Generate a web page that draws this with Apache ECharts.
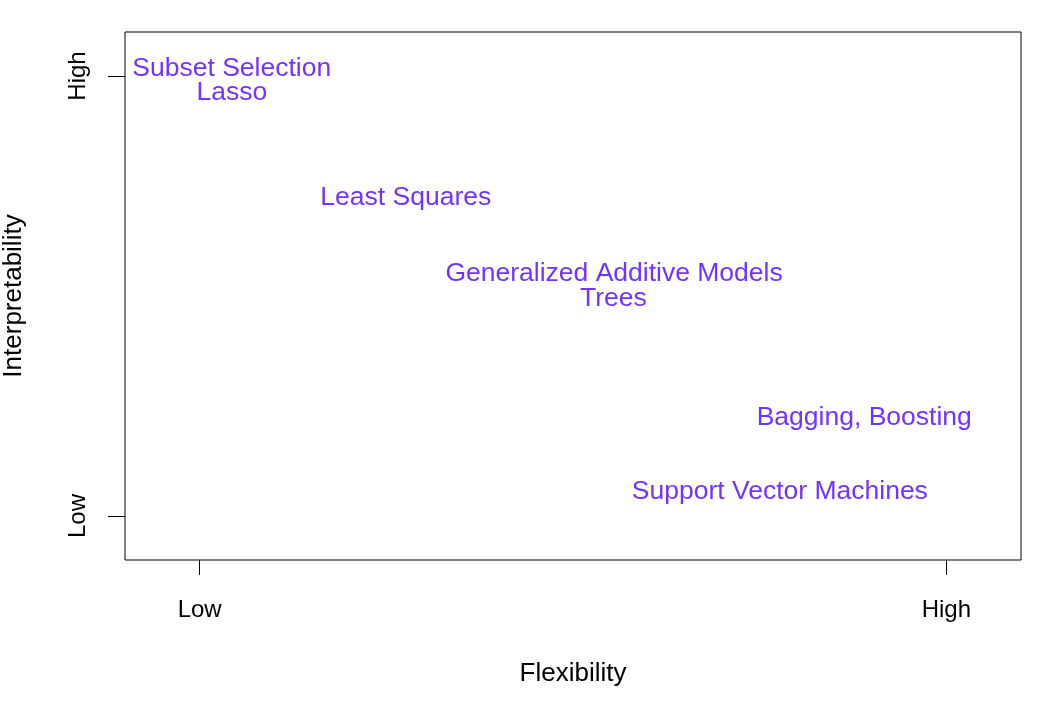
<!DOCTYPE html>
<html>
<head>
<meta charset="utf-8">
<script src="https://cdn.jsdelivr.net/npm/echarts@6/dist/echarts.min.js"></script>
<style>html,body{margin:0;padding:0;background:#fff;}#c{width:1062px;height:706px;}</style>
</head>
<body>
<div id="c"></div>
<script>
const methods = ['Subset Selection', 'Lasso', 'Least Squares', 'Generalized Additive Models', 'Trees', 'Bagging, Boosting', 'Support Vector Machines'];
const flexibility = [0.043, 0.043, 0.276, 0.555, 0.554, 0.890, 0.777];
const interpretability = [1.016, 0.962, 0.723, 0.551, 0.494, 0.223, 0.055];
const tickValues = [0, 1];
const tickLabels = ['Low', 'High'];

const chart = echarts.init(document.getElementById('c'));
const data = methods.map((m, i) => [flexibility[i], interpretability[i], m]);
const labelFmt = v => tickLabels[tickValues.indexOf(v)] || '';
const font = 'Liberation Sans, Arial, sans-serif';
chart.setOption({
  animation: false,
  backgroundColor: '#fff',
  grid: { left: 125, right: 41, top: 32, bottom: 146, outerBoundsMode: 'none', containLabel: false, show: true, borderColor: '#000', borderWidth: 1, backgroundColor: 'transparent' },
  xAxis: {
    type: 'value', min: -0.1, max: 1.1, position: 'bottom',
    name: 'Flexibility', nameLocation: 'middle', nameGap: 101,
    nameTextStyle: { color: '#000', fontSize: 26, fontFamily: font },
    axisLine: { show: false, onZero: false },
    splitLine: { show: false },
    axisTick: { show: true, inside: false, length: 15, lineStyle: { color: '#000', width: 1 }, customValues: tickValues },
    axisLabel: { color: '#000', fontSize: 24, fontFamily: font, margin: 38, customValues: tickValues, formatter: labelFmt }
  },
  yAxis: {
    type: 'value', min: -0.1, max: 1.1, position: 'left',
    name: 'Interpretability', nameLocation: 'middle', nameGap: 98,
    nameTextStyle: { color: '#000', fontSize: 26, fontFamily: font },
    axisLine: { show: false, onZero: false },
    splitLine: { show: false },
    axisTick: { show: true, inside: false, length: 17, lineStyle: { color: '#000', width: 1 }, customValues: tickValues },
    axisLabel: { color: '#000', fontSize: 24, fontFamily: font, margin: 35, rotate: 90, customValues: tickValues, formatter: labelFmt }
  },
  series: [{
    type: 'scatter',
    data: data,
    symbolSize: 1,
    itemStyle: { color: 'rgba(0,0,0,0)' },
    label: {
      show: true, position: 'inside', align: 'center', verticalAlign: 'middle',
      color: '#4e00ff', fontSize: 26.5, fontFamily: font,
      formatter: p => p.data[2]
    }
  }]
});
</script>
</body>
</html>
